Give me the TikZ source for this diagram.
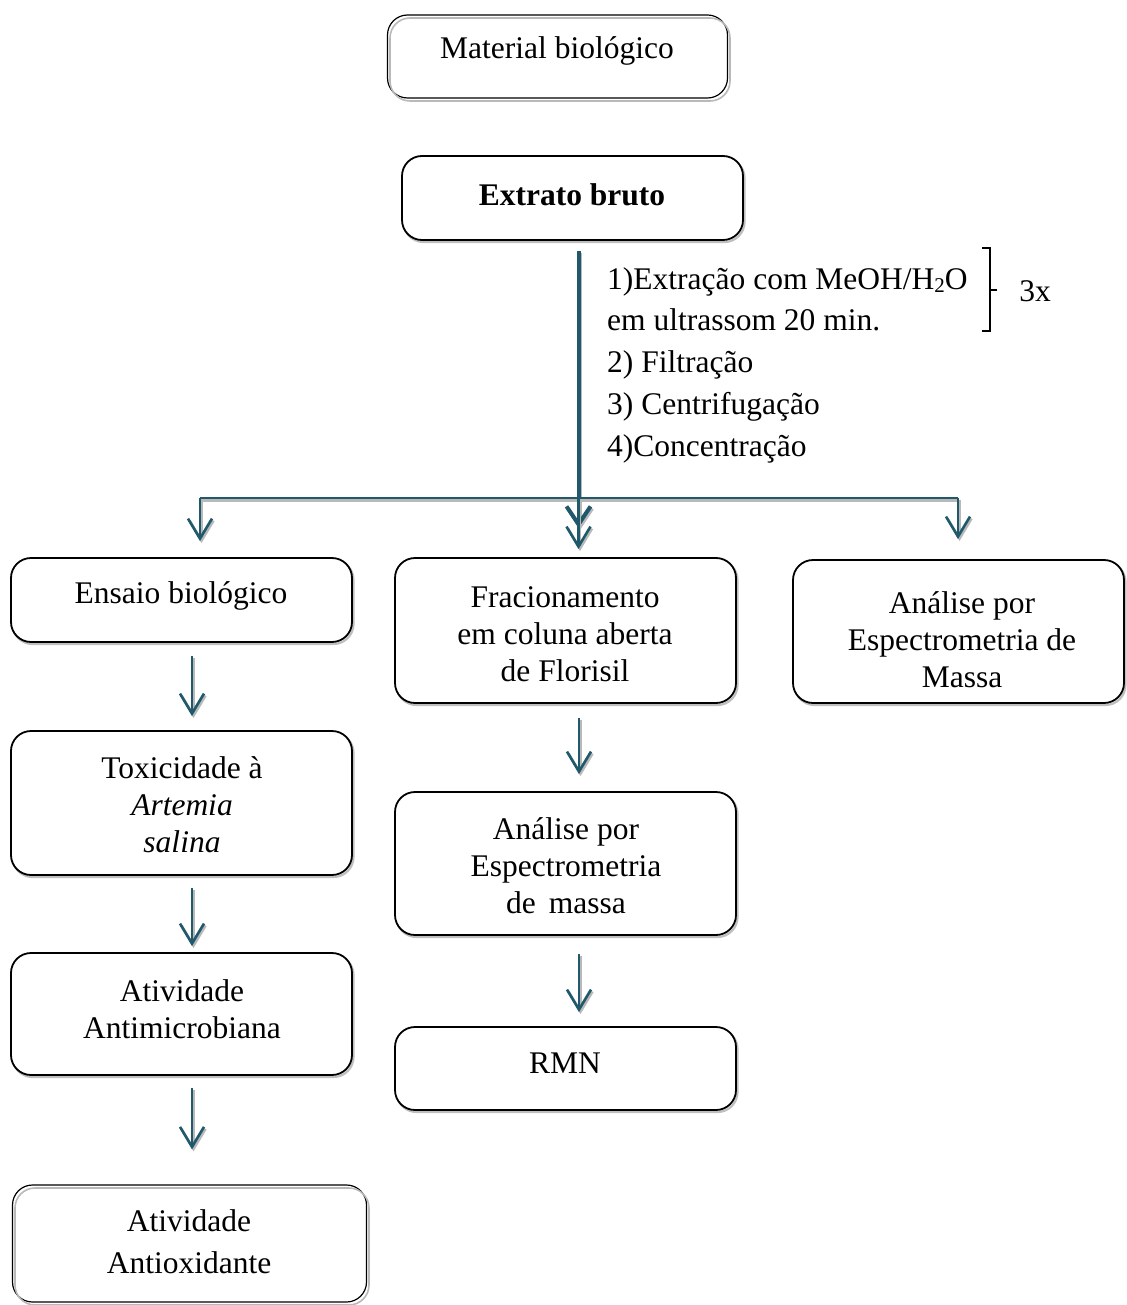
\documentclass[tikz,border=0pt]{standalone}
\usepackage{fontspec}
\setmainfont{Liberation Serif}
\usetikzlibrary{arrows.meta}
\definecolor{tealc}{HTML}{1F596B}
\begin{document}
\begin{tikzpicture}[x=1pt,y=-1pt,
  box/.style={draw=black, line width=1.8pt, rounded corners=20pt, fill=white, inner sep=0pt,
    preaction={draw=gray!50, line width=2.2pt, transform canvas={shift={(1.5pt,-2pt)}}}},
  boxthin/.style={draw=black, line width=1.2pt, rounded corners=20pt, inner sep=0pt,
    postaction={draw=gray!55, line width=1.6pt, transform canvas={shift={(2.5pt,-3pt)}}}},
  txt/.style={align=center, font=\fontsize{31.5}{37}\selectfont, inner sep=0pt},
  arr/.style={draw=tealc, line width=2.6pt, -{Straight Barb[length=20pt,width=24pt]},
    preaction={draw=gray!55, line width=2.6pt, -{Straight Barb[length=20pt,width=24pt]}, transform canvas={shift={(1.5pt,-2pt)}}}},
  line/.style={draw=tealc, line width=2.6pt,
    preaction={draw=gray!55, line width=2.6pt, transform canvas={shift={(0pt,-2.5pt)}}}},
  trunkline/.style={draw=tealc, line width=4pt, -{Straight Barb[length=18pt,width=24pt]},
    preaction={draw=gray!55, line width=4pt, -{Straight Barb[length=18pt,width=24pt]}, transform canvas={shift={(1.5pt,-2pt)}}}},
]
\useasboundingbox (0,0) rectangle (1126,1305);

% boxes
\node[boxthin, minimum width=340pt, minimum height=83pt] (mat) at (557.5,56.5) {};
\node[box, minimum width=341pt, minimum height=84pt] (ext) at (572.5,198) {};
\node[box, minimum width=341pt, minimum height=84pt] (ens) at (181.5,600) {};
\node[box, minimum width=341pt, minimum height=145pt] (frac) at (565.5,630.5) {};
\node[box, minimum width=331pt, minimum height=143pt] (ams) at (958.5,631.5) {};
\node[box, minimum width=341pt, minimum height=144pt] (tox) at (181.5,803) {};
\node[box, minimum width=341pt, minimum height=122pt] (amic) at (181.5,1014) {};
\node[boxthin, minimum width=354pt, minimum height=117pt] (aox) at (189.5,1243.5) {};
\node[box, minimum width=341pt, minimum height=143pt] (mass) at (565.5,863.5) {};
\node[box, minimum width=341pt, minimum height=83pt] (rmn) at (565.5,1068.5) {};

% texts
\node[txt] (tmat) at (557,51) {Material biológico};
\node[txt, font=\fontsize{31.5}{37}\selectfont\bfseries] (text) at (572,195) {Extrato bruto};
\node[txt] (tens) at (181,596) {Ensaio biológico};
\node[txt] (tfrac) at (565,634) {Fracionamento\\em coluna aberta\\de Florisil};
\node[txt] (tams) at (962,640) {Análise por\\Espectrometria de\\Massa};
\node[txt] (ttox) at (182,805) {Toxicidade à\\\textit{Artemia}\\\textit{salina}};
\node[txt] (tamic) at (182,1009) {Atividade\\Antimicrobiana};
\node[txt] (tmass) at (566,866) {Análise por\\Espectrometria\\de\,\ massa};
\node[txt] (trmn) at (565,1063) {RMN};
\node[txt, font=\fontsize{31.5}{42}\selectfont] (taox) at (189,1242) {Atividade\\Antioxidante};

% procedure text
\node[anchor=west, align=left, inner sep=0pt, font=\fontsize{31.5}{41.75}\selectfont] (steps) at (607,365)
  {1)Extração com MeOH/H\raisebox{-0.25ex}{\fontsize{21}{21}\selectfont 2}O\\em ultrassom 20 min.\\2) Filtração\\3) Centrifugação\\4)Concentração};
\draw[black, line width=1.6pt] (982,248) -- (990,248) -- (990,331) -- (982,331);
\coordinate (brmid) at (990,290);
\draw[black, line width=1.6pt] (brmid) -- ++(7,0);
\node[txt] (three) at (1035,291) {3x};

% trunk and branches
\coordinate (trunk) at (578.5,0);
\coordinate (bl) at (200,498);
\coordinate (bm) at (578.5,498);
\coordinate (br) at (958,498);
\draw[trunkline, shorten <=10pt] (ext.south -| trunk) -- (578.5,528);
\draw[line] (bl) -- (br);
\draw[arr, shorten >=16pt] (bl) -- (bl |- ens.north);
\draw[arr, shorten >=8pt] (bm) -- (bm |- frac.north);
\draw[arr, shorten >=20pt] (br) -- (br |- ams.north);

% left column
\coordinate (cl) at (192,0);
\draw[arr, shorten <=13pt, shorten >=14pt] (ens.south -| cl) -- (tox.north -| cl);
\draw[arr, shorten <=12pt, shorten >=6pt] (tox.south -| cl) -- (amic.north -| cl);
\draw[arr, shorten <=12pt, shorten >=35pt] (amic.south -| cl) -- (aox.north -| cl);

% middle column
\coordinate (cm) at (579,0);
\draw[arr, shorten <=14pt, shorten >=17pt] (frac.south -| cm) -- (mass.north -| cm);
\draw[arr, shorten <=18pt, shorten >=14pt] (mass.south -| cm) -- (rmn.north -| cm);
\end{tikzpicture}
\end{document}
